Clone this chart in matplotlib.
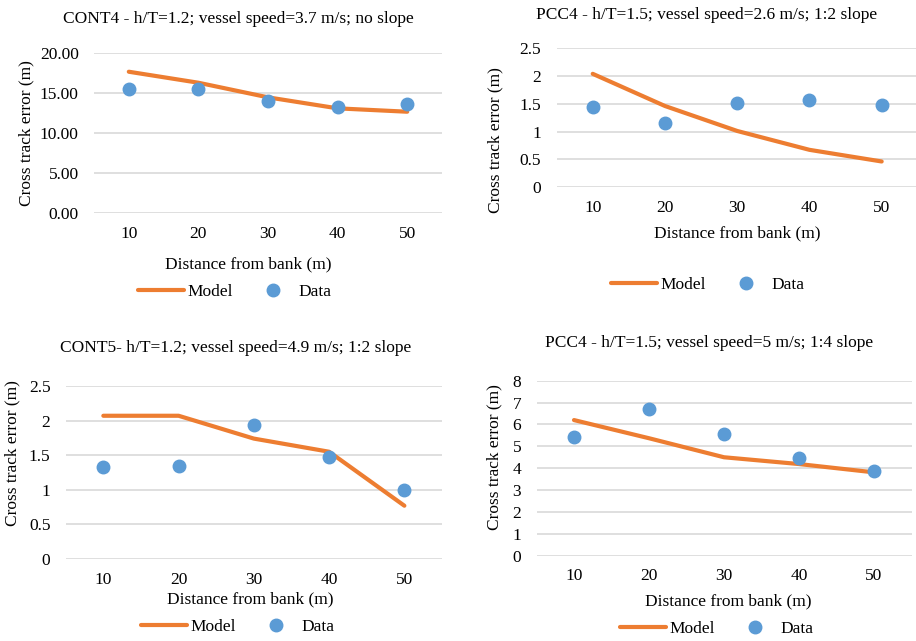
"""Cross track error vs. distance from bank: model against measured data."""

import matplotlib
matplotlib.use("Agg")
import matplotlib.pyplot as plt
from matplotlib.ticker import FuncFormatter

W, H = 916, 641
ORANGE = "#ED7D31"
BLUE = "#5B9BD5"
GRID = "#D9D9D9"
FS = 12.5

distance = [10, 20, 30, 40, 50]

cont4_title = "CONT4 - h/T=1.2; vessel speed=3.7 m/s; no slope"
cont4_model = [17.63, 16.26, 14.44, 13.07, 12.65]
cont4_data = [15.52, 15.44, 14.02, 13.28, 13.57]
cont4_ticks = [0, 5, 10, 15, 20]

pcc4a_title = "PCC4 - h/T=1.5; vessel speed=2.6 m/s; 1:2 slope"
pcc4a_model = [2.04, 1.46, 1.01, 0.67, 0.46]
pcc4a_data = [1.45, 1.15, 1.51, 1.56, 1.47]
pcc4a_ticks = [0, 0.5, 1, 1.5, 2, 2.5]

cont5_title = "CONT5- h/T=1.2; vessel speed=4.9 m/s; 1:2 slope"
cont5_model = [2.07, 2.07, 1.74, 1.55, 0.77]
cont5_data = [1.33, 1.35, 1.93, 1.48, 1.00]
cont5_ticks = [0, 0.5, 1, 1.5, 2, 2.5]

pcc4b_title = "PCC4 - h/T=1.5; vessel speed=5 m/s; 1:4 slope"
pcc4b_model = [6.20, 5.37, 4.50, 4.19, 3.81]
pcc4b_data = [5.41, 6.69, 5.56, 4.48, 3.86]
pcc4b_ticks = [0, 1, 2, 3, 4, 5, 6, 7, 8]

plt.rcParams["font.family"] = ["Liberation Serif", "DejaVu Serif"]
plt.rcParams["font.size"] = FS


def fx(px):
    return px / W


def fy(py):
    return 1 - py / H


def panel(fig, box, title, model, data, ticks, fmt, title_xy, ylab_xy, xlab_xy, leg_xy):
    left, top, right, bottom = box
    ax = fig.add_axes([fx(left), fy(bottom), fx(right - left), (bottom - top) / H])
    line, = ax.plot(distance, model, color=ORANGE, lw=3.0, solid_capstyle="round", zorder=3)
    pts, = ax.plot(distance, data, ls="none", marker="o", ms=9, color=BLUE, zorder=4)

    ax.set_xlim(5, 55)
    ax.set_ylim(ticks[0], ticks[-1])
    ax.set_xticks(distance)
    ax.set_yticks(ticks)
    ax.yaxis.set_major_formatter(FuncFormatter(fmt))
    ax.grid(axis="y", color=GRID, lw=1.2)
    ax.set_axisbelow(True)
    for s in ax.spines.values():
        s.set_visible(False)
    ax.tick_params(length=0, labelsize=FS)
    ax.tick_params(axis="y", pad=11)
    ax.tick_params(axis="x", pad=9)

    fig.text(fx(title_xy[0]), fy(title_xy[1]), title, ha="center", va="center", fontsize=FS)
    fig.text(fx(ylab_xy[0]), fy(ylab_xy[1]), "Cross track error (m)", rotation=90,
             ha="center", va="center", fontsize=FS)
    fig.text(fx(xlab_xy[0]), fy(xlab_xy[1]), "Distance from bank (m)",
             ha="center", va="center", fontsize=FS)
    fig.legend([line, pts], ["Model", "Data"], loc="center", ncol=2,
               bbox_to_anchor=(fx(leg_xy[0]), fy(leg_xy[1])), frameon=False,
               handlelength=2.6, handletextpad=0.2, columnspacing=1.0,
               fontsize=FS, borderaxespad=0)
    return ax


fig = plt.figure(figsize=(W / 100, H / 100), dpi=100)

panel(fig, (94, 52.7, 442, 213.3), cont4_title, cont4_model, cont4_data, cont4_ticks,
      lambda v, p: f"{v:.2f}", (238, 19), (26, 133), (248, 264), (235, 292))
panel(fig, (556.6, 48.3, 917.8, 187), pcc4a_title, pcc4a_model, pcc4a_data, pcc4a_ticks,
      lambda v, p: f"{v:g}", (707, 15), (495, 140), (737, 233), (708, 285))
panel(fig, (65.7, 386, 442, 559), cont5_title, cont5_model, cont5_data, cont5_ticks,
      lambda v, p: f"{v:g}", (236, 348), (12, 453), (250, 599), (238, 627))
panel(fig, (536.5, 380.7, 911.5, 555.7), pcc4b_title, pcc4b_model, pcc4b_data, pcc4b_ticks,
      lambda v, p: f"{v:g}", (709, 343), (494, 457), (728, 601), (717, 629))

fig.savefig("out.png", dpi=100, facecolor="white")
